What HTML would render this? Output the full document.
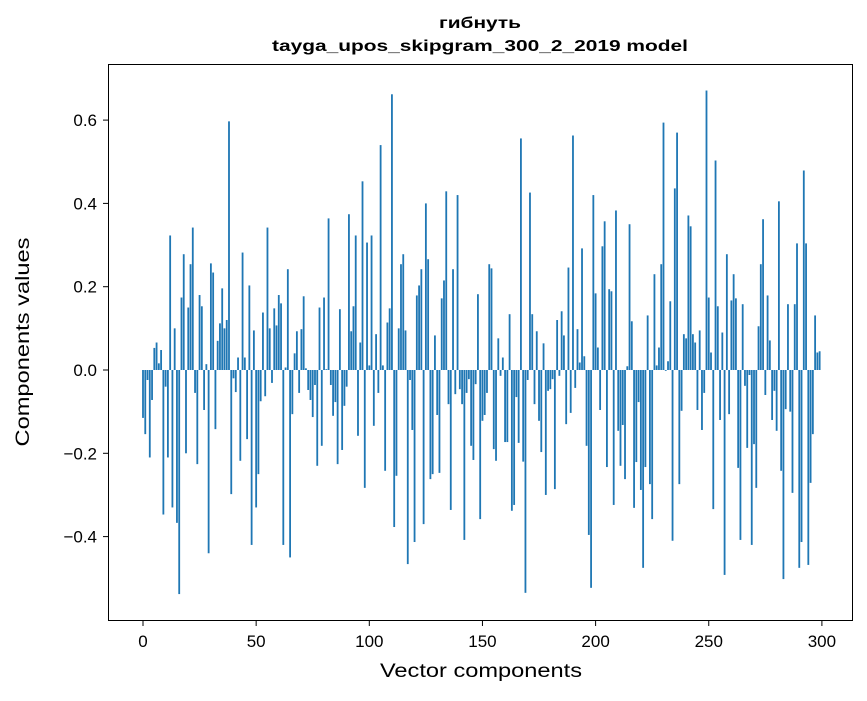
<!DOCTYPE html>
<html><head><meta charset="utf-8"><style>
body{margin:0;background:#fff}
svg text{font-family:"Liberation Sans","DejaVu Sans",sans-serif;fill:#000}
</style></head><body>
<svg id="chart" width="867" height="696" xmlns="http://www.w3.org/2000/svg">
<rect x="0" y="0" width="867" height="696" fill="#fff"/>
<g id="bars"></g>
<rect x="108.5" y="64.5" width="744" height="556" fill="none" stroke="#000" stroke-width="1"/>
<g id="xt"></g>
<g id="yt"></g>
<text x="480" y="28" text-anchor="middle" font-size="16" font-weight="bold" textLength="82" lengthAdjust="spacingAndGlyphs">гибнуть</text>
<text x="480" y="51" text-anchor="middle" font-size="16" font-weight="bold" textLength="416" lengthAdjust="spacingAndGlyphs">tayga_upos_skipgram_300_2_2019 model</text>
<text x="481" y="677" text-anchor="middle" font-size="19" textLength="202" lengthAdjust="spacingAndGlyphs">Vector components</text>
<text x="29" y="342" text-anchor="middle" font-size="19" transform="rotate(-90 29 342)" textLength="209" lengthAdjust="spacingAndGlyphs">Components values</text>
</svg>
<script>
const values = [
-0.115,-0.154,-0.024,-0.21,-0.072,0.053,0.066,0.016,0.048,-0.347,
-0.04,-0.21,0.323,-0.33,0.1,-0.367,-0.538,0.174,0.278,-0.2,
0.15,0.254,0.342,-0.055,-0.226,0.18,0.153,-0.096,0.014,-0.44,
0.256,0.234,-0.142,0.07,0.112,0.196,0.1,0.12,0.597,-0.298,
-0.02,-0.053,0.03,-0.218,0.282,0.03,-0.166,0.203,-0.42,0.095,
-0.33,-0.25,-0.075,0.138,-0.063,0.342,0.1,-0.031,0.148,0.107,
0.18,0.16,-0.42,0.006,0.242,-0.45,-0.106,0.04,0.093,-0.055,
0.098,0.177,0.004,-0.048,-0.072,-0.113,-0.036,-0.23,0.15,-0.182,
0.174,0.002,0.364,-0.036,-0.11,-0.077,-0.226,0.146,-0.192,-0.086,
-0.04,0.374,0.093,0.153,0.323,-0.158,0.066,0.453,-0.283,0.306,
0.011,0.323,-0.134,0.086,-0.055,0.54,0.011,-0.242,0.114,0.148,
0.662,-0.377,-0.254,0.1,0.254,0.278,0.095,-0.466,-0.024,-0.144,
-0.413,0.179,0.203,0.242,-0.37,0.4,0.266,-0.262,-0.25,0.083,
-0.108,-0.247,0.172,0.215,0.429,-0.082,-0.336,0.242,-0.058,0.42,
-0.046,-0.082,-0.408,-0.055,-0.022,-0.182,-0.216,-0.034,0.182,-0.358,
-0.122,-0.108,-0.055,0.254,0.244,-0.19,-0.218,0.076,-0.014,0.03,
-0.173,-0.173,0.134,-0.338,-0.324,-0.065,-0.175,0.556,-0.22,-0.535,
-0.024,0.426,0.134,-0.082,0.093,-0.122,-0.197,0.064,-0.3,-0.05,
-0.046,-0.022,-0.286,0.12,-0.014,0.141,0.083,-0.13,0.246,-0.103,
0.563,-0.043,0.098,0.018,0.292,0.033,-0.182,-0.396,-0.523,0.42,
0.184,0.054,-0.096,0.297,0.357,-0.233,0.194,0.189,-0.324,0.383,
-0.146,-0.23,-0.132,-0.262,0.009,0.35,0.117,-0.331,-0.221,-0.077,
-0.288,-0.475,-0.233,0.131,-0.274,-0.358,0.23,0.011,0.054,0.254,
0.594,-0.002,0.021,0.165,-0.41,0.436,0.57,-0.274,-0.098,0.086,
0.076,0.371,0.345,0.086,0.066,-0.096,0.095,-0.144,-0.055,0.671,
0.174,0.042,-0.334,0.503,0.153,-0.12,0.09,-0.492,0.278,-0.106,
0.167,0.23,0.172,-0.235,-0.408,0.158,-0.038,-0.187,-0.012,-0.42,
-0.178,-0.283,0.105,0.254,0.362,-0.06,0.179,0.071,-0.12,-0.05,
-0.146,0.405,-0.242,-0.502,-0.094,0.158,-0.1,-0.295,0.158,0.304,
-0.475,-0.413,0.479,0.304,-0.468,-0.271,-0.154,0.131,0.042,0.045
];
const xTicks = [0,50,100,150,200,250,300];
const yTicks = [-0.4,-0.2,0.0,0.2,0.4,0.6];
const NS="http://www.w3.org/2000/svg";
function xs(v){return 143+v*2.263;}
function ys(v){return 370-v*416.5;}
const bars=document.getElementById('bars');
values.forEach((v,i)=>{
  const r=document.createElementNS(NS,'rect');
  const x0=xs(i-0.4), x1=xs(i+0.4);
  const y0=Math.min(ys(0),ys(v)), h=Math.abs(ys(v)-ys(0));
  r.setAttribute('x',x0);r.setAttribute('width',x1-x0);
  r.setAttribute('y',y0);r.setAttribute('height',h);
  r.setAttribute('fill','#1f77b4');
  
  
  bars.appendChild(r);
});
const xt=document.getElementById('xt');
xTicks.forEach(t=>{
  const l=document.createElementNS(NS,'line');
  l.setAttribute('x1',xs(t));l.setAttribute('x2',xs(t));l.setAttribute('y1',620.5);l.setAttribute('y2',626);
  l.setAttribute('stroke','#000');
  
  
  xt.appendChild(l);
  const tx=document.createElementNS(NS,'text');
  tx.setAttribute('x',xs(t));tx.setAttribute('y',647);tx.setAttribute('text-anchor','middle');tx.setAttribute('font-size','17');
  tx.textContent=String(t);
  
  
  xt.appendChild(tx);
});
const yt=document.getElementById('yt');
yTicks.forEach(t=>{
  const l=document.createElementNS(NS,'line');
  l.setAttribute('x1',103);l.setAttribute('x2',108.5);l.setAttribute('y1',ys(t));l.setAttribute('y2',ys(t));
  l.setAttribute('stroke','#000');
  
  
  yt.appendChild(l);
  const tx=document.createElementNS(NS,'text');
  tx.setAttribute('x',97);tx.setAttribute('y',ys(t)+6);tx.setAttribute('text-anchor','end');tx.setAttribute('font-size','17');
  tx.textContent=(t<0?'\u2212':'')+Math.abs(t).toFixed(1);
  
  
  yt.appendChild(tx);
});
</script>
</body></html>
